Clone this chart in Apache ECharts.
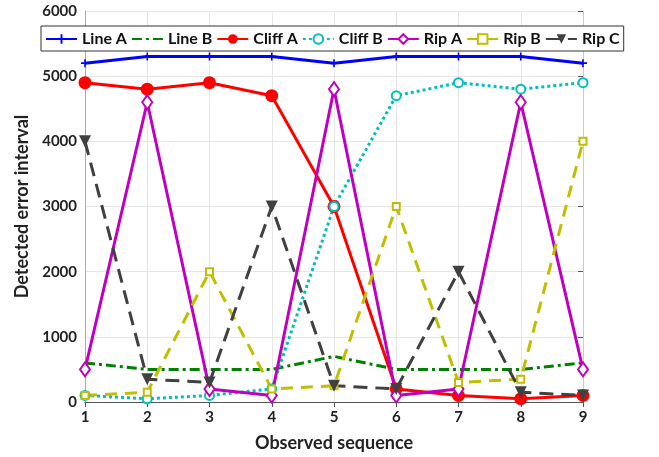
<!DOCTYPE html>
<html>
<head>
<meta charset="utf-8">
<script src="https://cdn.jsdelivr.net/npm/echarts@6/dist/echarts.min.js"></script>
<style>
  html, body { margin: 0; padding: 0; background: #fff; }
  #chart { width: 659px; height: 457px; }
</style>
</head>
<body>
<div id="chart"></div>
<script>
var seq = ['1', '2', '3', '4', '5', '6', '7', '8', '9'];
var lineA = [5200, 5300, 5300, 5300, 5200, 5300, 5300, 5300, 5200];
var lineB = [600, 500, 500, 500, 700, 500, 500, 500, 600];
var cliffA = [4900, 4800, 4900, 4700, 3000, 200, 100, 50, 100];
var cliffB = [100, 50, 100, 200, 3000, 4700, 4900, 4800, 4900];
var ripA = [500, 4600, 200, 100, 4800, 100, 200, 4600, 500];
var ripB = [100, 150, 2000, 200, 250, 3000, 300, 350, 4000];
var ripC = [4000, 350, 300, 3000, 250, 200, 2000, 150, 100];

var font = 'Lato, "Open Sans", sans-serif';
var plus = 'path://M4,0H6V4H10V6H6V10H4V6H0V4H4Z';

function mk(name, data, color, type, symbol, size, extra) {
    var s = {
        name: name,
        type: 'line',
        data: data,
        symbol: symbol,
        symbolSize: size,
        showSymbol: symbol !== 'none',
        lineStyle: {color: color, width: 3, type: type},
        itemStyle: {color: color, borderColor: color, borderWidth: 2.8},
        emphasis: {disabled: true},
        animation: false
    };
    if (extra) {
        for (var k in extra) s[k] = extra[k];
    }
    return s;
}

var chart = echarts.init(document.getElementById('chart'));
chart.setOption({
    backgroundColor: '#fff',
    grid: {left: 85, right: 76, top: 11, bottom: 54},
    legend: {
        top: 26, left: 41, width: 640,
        padding: [5, 4, 4, 4],
        borderColor: '#333', borderWidth: 1,
        backgroundColor: '#fff',
        itemWidth: 31, itemHeight: 12, itemGap: 4,
        textStyle: {fontFamily: font, fontWeight: 'bold', fontSize: 16, color: '#111'},
        data: ['Line A', {name: 'Line B', itemStyle: {opacity: 0}}, 'Cliff A', 'Cliff B', 'Rip A', 'Rip B', 'Rip C']
    },
    xAxis: [{
        type: 'category', data: seq, boundaryGap: false,
        name: 'Observed sequence', nameLocation: 'middle', nameGap: 32,
        nameTextStyle: {fontFamily: font, fontWeight: 'bold', fontSize: 18, color: '#222'},
        axisLine: {lineStyle: {color: '#aaa', width: 1}},
        axisTick: {show: false},
        axisLabel: {fontFamily: font, fontWeight: 'bold', fontSize: 15, color: '#222', margin: 8},
        splitLine: {show: true, lineStyle: {color: '#e6e6e6'}}
    }, {
        type: 'category', data: seq, boundaryGap: false, position: 'top',
        axisLine: {lineStyle: {color: '#555', width: 1}},
        axisTick: {show: true, inside: true, length: 5, alignWithLabel: true, lineStyle: {color: '#555'}},
        axisLabel: {show: false}, splitLine: {show: false}
    }],
    yAxis: [{
        type: 'value', min: 0, max: 6000, interval: 1000,
        name: 'Detected error interval', nameLocation: 'middle', nameGap: 45,
        nameTextStyle: {fontFamily: font, fontWeight: 'bold', fontSize: 18, color: '#222'},
        axisLine: {show: true, lineStyle: {color: '#aaa', width: 1}},
        axisTick: {show: false},
        axisLabel: {fontFamily: font, fontWeight: 'bold', fontSize: 15, color: '#222', margin: 8,
            formatter: function (v) { return String(v); }},
        splitLine: {show: true, lineStyle: {color: '#e6e6e6'}}
    }, {
        type: 'value', min: 0, max: 6000, interval: 1000, position: 'right',
        axisLine: {show: true, lineStyle: {color: '#ccc', width: 1}},
        axisTick: {show: true, inside: true, length: 5, lineStyle: {color: '#555'}},
        axisLabel: {show: false}, splitLine: {show: false}
    }],
    series: [
        mk('Line A', lineA, '#0000ff', 'solid', plus, 8, {itemStyle: {color: '#0000ff'}}),
        mk('Line B', lineB, '#008000', [10, 4, 3, 4], 'none', 0),
        mk('Cliff A', cliffA, '#ff0000', 'solid', 'circle', 13, {itemStyle: {color: '#ff0000'}}),
        mk('Cliff B', cliffB, '#00bfbf', [3, 3], 'emptyCircle', 9),
        mk('Rip A', ripA, '#bf00bf', 'solid', 'emptyDiamond', [10, 14]),
        mk('Rip B', ripB, '#bfbf00', [12, 8], 'emptyRect', 7),
        mk('Rip C', ripC, '#404040', [14, 8], 'triangle', 12, {symbolRotate: 180, itemStyle: {color: '#404040'}})
    ]
});
</script>
</body>
</html>
